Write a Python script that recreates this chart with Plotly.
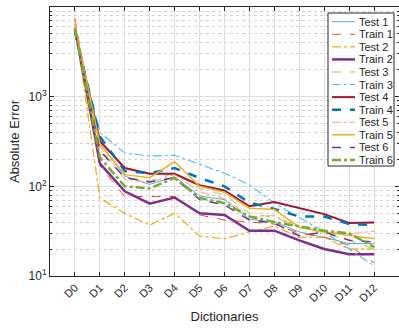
import plotly.graph_objects as go

categories = ["D0", "D1", "D2", "D3", "D4", "D5", "D6", "D7", "D8", "D9", "D10", "D11", "D12"]

test1 = [5500, 300, 130, 105, 128, 78, 71, 43, 40, 31, 27, 23, 23]
train1 = [7500, 170, 77, 77, 77, 48, 42, 40, 38, 30, 27, 22, 14]
test2 = [6500, 74, 50, 37, 50, 28, 26, 31, 36, 27, 27, 20, 20]
train2 = [5800, 180, 88, 64, 75, 50, 48, 32, 32, 25, 20, 17.5, 17.5]
test3 = [5200, 260, 125, 115, 141, 95, 80, 50, 45, 35, 30, 25, 20]
train3 = [5000, 400, 235, 218, 222, 175, 140, 104, 65, 45, 31, 20, 13]
test4 = [5600, 320, 160, 138, 138, 103, 90, 60, 67, 57, 49, 39, 39.5]
train4 = [5400, 360, 148, 140, 160, 124, 100, 66, 56, 46, 46, 38, 37]
test5 = [7000, 280, 120, 110, 135, 87, 73, 46, 47, 35, 31, 29.5, 31.5]
train5 = [6000, 300, 135, 125, 188, 100, 86, 57, 55, 35, 31, 28.5, 26]
test6 = [5300, 250, 125, 112, 125, 71, 62, 42, 39, 28, 31, 25, 24]
train6 = [5700, 210, 100, 95, 124, 74, 65, 46, 40, 36, 32, 30, 21]

names = ["Test 1", "Train 1", "Test 2", "Train 2", "Test 3", "Train 3",
         "Test 4", "Train 4", "Test 5", "Train 5", "Test 6", "Train 6"]
series = [test1, train1, test2, train2, test3, train3,
          test4, train4, test5, train5, test6, train6]
colors = ["#5CA7DE", "#E8501C", "#EDB120", "#7E2F8E", "#B5DB92", "#4DBEEE",
          "#A2142F", "#0072BD", "#F7A07A", "#EDB120", "#7E2F8E", "#77AC30"]
dashes = ["solid", "dash", "dashdot", "solid", "dash", "dashdot",
          "solid", "dash", "dashdot", "solid", "dash", "dashdot"]
widths = [1, 1, 1.3, 2.5, 1.3, 1.1, 2, 2.5, 1, 1.5, 1.5, 2.5]

ytick_vals = [10, 100, 1000, 10000]
ytick_text = ["10<sup>1</sup>", "10<sup>2</sup>", "10<sup>3</sup>", "10<sup>4</sup>"]
minor_vals = [m * 10 ** k for k in range(1, 4) for m in range(2, 10)]

FONT = "Liberation Sans, Arial, Helvetica, sans-serif"

fig = go.Figure()
for name, ys, c, d, w in zip(names, series, colors, dashes, widths):
    fig.add_trace(go.Scatter(x=categories, y=ys, name=name, mode="lines",
                             line=dict(color=c, dash=d, width=w),
                             showlegend=False))

# plot area geometry (pixels)
W, H = 399, 329
ml, mr, mt, mb = 50, 0, 7, 53
pw = W - ml - mr
ph = H - mt - mb

def px_x(p):
    return (p - ml) / pw

def px_y(p):
    return (H - mb - p) / ph

shapes = []
annotations = []
# legend box
shapes.append(dict(type="rect", xref="paper", yref="paper",
                   x0=px_x(328), x1=px_x(394), y0=px_y(166), y1=px_y(13),
                   fillcolor="white", line=dict(color="#262626", width=1), layer="above"))
for i, (name, c, d, w) in enumerate(zip(names, colors, dashes, widths)):
    yy = 21.7 + 12.57 * i
    shapes.append(dict(type="line", xref="paper", yref="paper",
                       x0=px_x(332), x1=px_x(355), y0=px_y(yy), y1=px_y(yy),
                       line=dict(color=c, dash=d, width=w), layer="above"))
    annotations.append(dict(xref="paper", yref="paper", x=px_x(357), y=px_y(yy),
                            text=name, showarrow=False, xanchor="left", yanchor="middle",
                            font=dict(family=FONT, size=11, color="#262626")))

fig.update_layout(
    width=W, height=H,
    margin=dict(l=ml, r=mr, t=mt, b=mb),
    paper_bgcolor="white", plot_bgcolor="white",
    font=dict(family=FONT, size=11, color="#262626"),
    shapes=shapes, annotations=annotations,
    xaxis=dict(
        type="category", range=[-1, 13],
        tickangle=-45, tickfont=dict(size=11),
        showgrid=True, gridcolor="#DEDEDE", gridwidth=1,
        showline=True, linecolor="#262626", linewidth=1, mirror="ticks",
        ticks="inside", ticklen=4, tickcolor="#262626",
        title=dict(text="Dictionaries", font=dict(size=13), standoff=8),
        zeroline=False, automargin=False,
    ),
    yaxis=dict(
        type="log", range=[1, 4],
        tickvals=ytick_vals, ticktext=ytick_text, tickfont=dict(size=12),
        showgrid=True, gridcolor="#DEDEDE", gridwidth=1,
        showline=True, linecolor="#262626", linewidth=1, mirror="ticks",
        ticks="inside", ticklen=4, tickcolor="#262626",
        minor=dict(tickvals=minor_vals, showgrid=True, gridcolor="#D2D2D2",
                   griddash="dot", gridwidth=1, ticks="inside", ticklen=2,
                   tickcolor="#262626"),
        title=dict(text="Absolute Error", font=dict(size=13), standoff=6),
        zeroline=False, automargin=False,
    ),
)

fig.write_html("out.html", config={"displayModeBar": False},
               post_script="document.body.style.margin='0px';")
